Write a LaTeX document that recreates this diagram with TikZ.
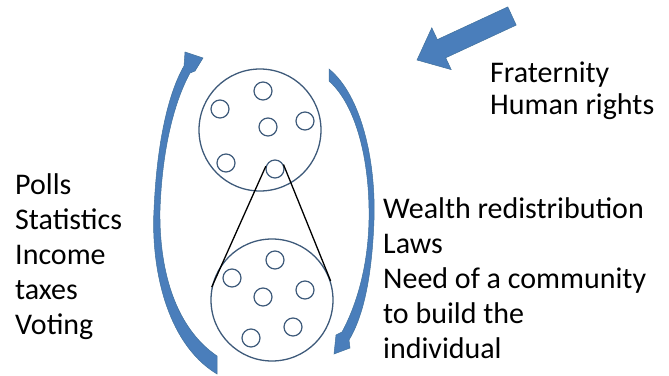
\documentclass[tikz,border=0pt]{standalone}
\usepackage{fontspec}
\setmainfont{Carlito}
\definecolor{arrblue}{HTML}{4A7EBB}
\definecolor{arredge}{HTML}{41719C}
\definecolor{circedge}{HTML}{3E5A7A}
\begin{document}
\begin{tikzpicture}[x=1pt,y=-1pt,
  bigcirc/.style={circle,draw=circedge,line width=1.3pt,minimum size=122pt,inner sep=0pt},
  smallcirc/.style={circle,draw=circedge,line width=1.2pt,minimum size=18pt,inner sep=0pt},
  blockarrow/.style={fill=arrblue,draw=arredge,line width=0.5pt,line join=miter},
  txt/.style={anchor=base west,align=left,inner sep=0pt,font=\fontsize{30}{35}\selectfont},
  link/.style={draw=black,line width=1.3pt}]
\useasboundingbox (0,0) rectangle (669,375);

% big circles
\node[bigcirc] (top) at (260,130) {};
\node[bigcirc] (bot) at (272,300) {};

% small circles, top
\node[smallcirc] (t1) at (263,91) {};
\node[smallcirc] (t2) at (220,109) {};
\node[smallcirc] (t3) at (268,127) {};
\node[smallcirc] (t4) at (305,121) {};
\node[smallcirc] (t5) at (226,163) {};
\node[smallcirc] (t6) at (275,169) {};
% small circles, bottom
\node[smallcirc] (b1) at (275,260) {};
\node[smallcirc] (b2) at (232,278) {};
\node[smallcirc] (b3) at (263,297) {};
\node[smallcirc] (b4) at (305,290) {};
\node[smallcirc] (b5) at (293,327) {};
\node[smallcirc] (b6) at (251,338) {};

% zoom lines
\draw[link] (t6.163) -- (bot.168);
\draw[link] (t6.28) -- (bot.18);

% left curved arrow (upwards)
\path[blockarrow]
  (217,374) .. controls (164,342) and (151,262) .. (154,210)
  .. controls (157,140) and (169,92) .. (184,66)
  -- (185,52) -- (203,58) -- (195,71) -- (190,73)
  .. controls (174,102) and (162,150) .. (160,210)
  .. controls (159,272) and (176,328) .. (217,356) -- cycle;

% right curved arrow (downwards)
\path[blockarrow]
  (329,69) .. controls (361,95) and (376,160) .. (374,220)
  .. controls (372,275) and (364,315) .. (349,340)
  -- (350,348) -- (334,354) -- (336,335) -- (342,332)
  .. controls (355,308) and (368,270) .. (369,220)
  .. controls (370,160) and (356,105) .. (329,81) -- cycle;

% fraternity block arrow
\path[blockarrow]
  (516.2,25.1) -- (445.7,57.8) -- (451.2,69.6) -- (417,60)
  -- (431.8,27.8) -- (437.3,39.6) -- (507.8,6.9) -- cycle;

% texts (anchored at the baseline of the last line)
\node[txt,font=\fontsize{30}{32}\selectfont] (frat) at (490,114) {Fraternity\\Human rights};
\node[txt] (left) at (15,334) {Polls\\Statistics\\Income\\taxes\\Voting};
\node[txt] (right) at (383,358) {Wealth redistribution\\Laws\\Need of a community\\to build the\\individual};
\end{tikzpicture}
\end{document}
